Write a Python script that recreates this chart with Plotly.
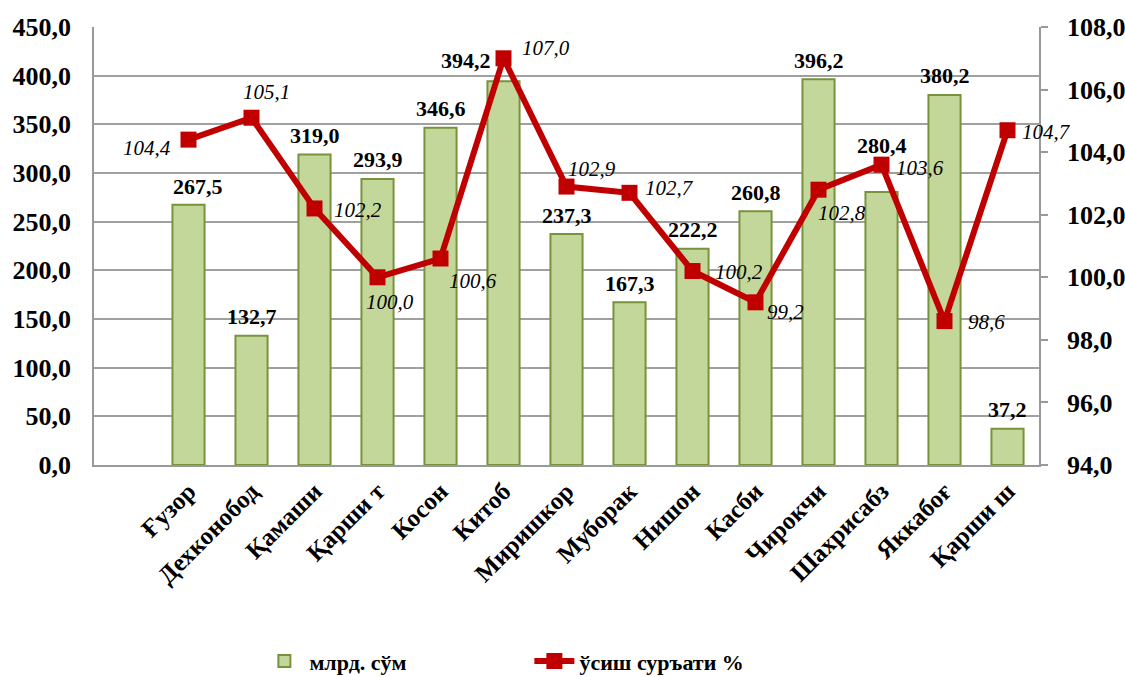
import plotly.graph_objects as go

categories = ["Ғузор", "Дехконобод", "Қамаши", "Қарши т", "Косон", "Китоб", "Миришкор",
              "Муборак", "Нишон", "Касби", "Чирокчи", "Шахрисабз", "Яккабоғ", "Қарши ш"]
volume = [267.5, 132.7, 319.0, 293.9, 346.6, 394.2, 237.3, 167.3, 222.2, 260.8, 396.2, 280.4, 380.2, 37.2]
growth = [104.4, 105.1, 102.2, 100.0, 100.6, 107.0, 102.9, 102.7, 100.2, 99.2, 102.8, 103.6, 98.6, 104.7]

bar_name = "млрд. сўм"
line_name = "ўсиш суръати %"

FONT = "Liberation Serif"

# label nudges (pixels) relative to each mark
growth_label_shift = [(-42, -8), (15, 26), (43, -2), (12, -25), (32, -22), (42, 10), (25, 18),
                      (40, 5), (46, -1), (30, -10), (23, -23), (38, -3), (42, -1), (39, -2)]
bar_label_shift = {"Китоб": (-38, 21), "Шахрисабз": (0, 47), "Ғузор": (9, 18)}

fig = go.Figure()
fig.add_trace(go.Bar(
    x=categories, y=volume, name=bar_name, width=0.51,
    marker=dict(color="#C4D79B", line=dict(color="#77933C", width=2)),
))
fig.add_trace(go.Scatter(
    x=categories, y=growth, name=line_name, yaxis="y2", mode="lines+markers",
    line=dict(color="#C00000", width=6),
    marker=dict(symbol="square", size=16, color="#C00000"),
    cliponaxis=False,
))

for c, v, (dx, dy) in zip(categories, growth, growth_label_shift):
    fig.add_annotation(x=c, y=v, yref="y2", text=f"{v:.1f}".replace(".", ","), showarrow=False,
                       xshift=dx, yshift=dy, yanchor="middle", xanchor="center",
                       font=dict(family=FONT, size=21, color="#000000", style="italic"))

for c, v in zip(categories, volume):
    dx, dy = bar_label_shift.get(c, (0, 19))
    fig.add_annotation(x=c, y=v, text=f"<b>{v:.1f}</b>".replace(".", ","), showarrow=False,
                       xshift=dx, yshift=dy, yanchor="middle",
                       font=dict(family=FONT, size=22, color="#000000"))

fig.update_layout(
    width=1125, height=677,
    margin=dict(l=94, r=86, t=27, b=212, autoexpand=False),
    paper_bgcolor="white", plot_bgcolor="white",
    separators=", ",
    font=dict(family=FONT, color="#000000"),
    showlegend=True,
    legend=dict(orientation="h", x=0.175, xanchor="left", y=-0.448, yanchor="middle",
                font=dict(family=FONT, size=22, color="#000000", weight="bold"),
                entrywidth=215, itemwidth=40),
    xaxis=dict(type="category", range=[-1.5, 13.5], tickangle=-45, automargin=False,
               showline=True, linecolor="#999999", linewidth=1.5, ticks="",
               tickfont=dict(family=FONT, size=25, weight="bold")),
    yaxis=dict(range=[0, 450], dtick=50, tickformat=".1f", automargin=False,
               showgrid=True, gridcolor="#A0A0A0", gridwidth=1.5,
               showline=True, linecolor="#999999", linewidth=1.5, ticks="",
               ticklabelstandoff=16,
               tickfont=dict(family=FONT, size=26, weight="bold"), zeroline=False),
    yaxis2=dict(range=[94, 108], dtick=2, tickformat=".1f", overlaying="y", side="right",
                automargin=False,
                showgrid=False, showline=True, linecolor="#999999", linewidth=1.5,
                ticks="outside", ticklen=7, tickcolor="#999999", tickwidth=1.5,
                ticklabelstandoff=14,
                tickfont=dict(family=FONT, size=26, weight="bold"), zeroline=False),
    bargap=0.49,
)

fig.write_html("out.html")
